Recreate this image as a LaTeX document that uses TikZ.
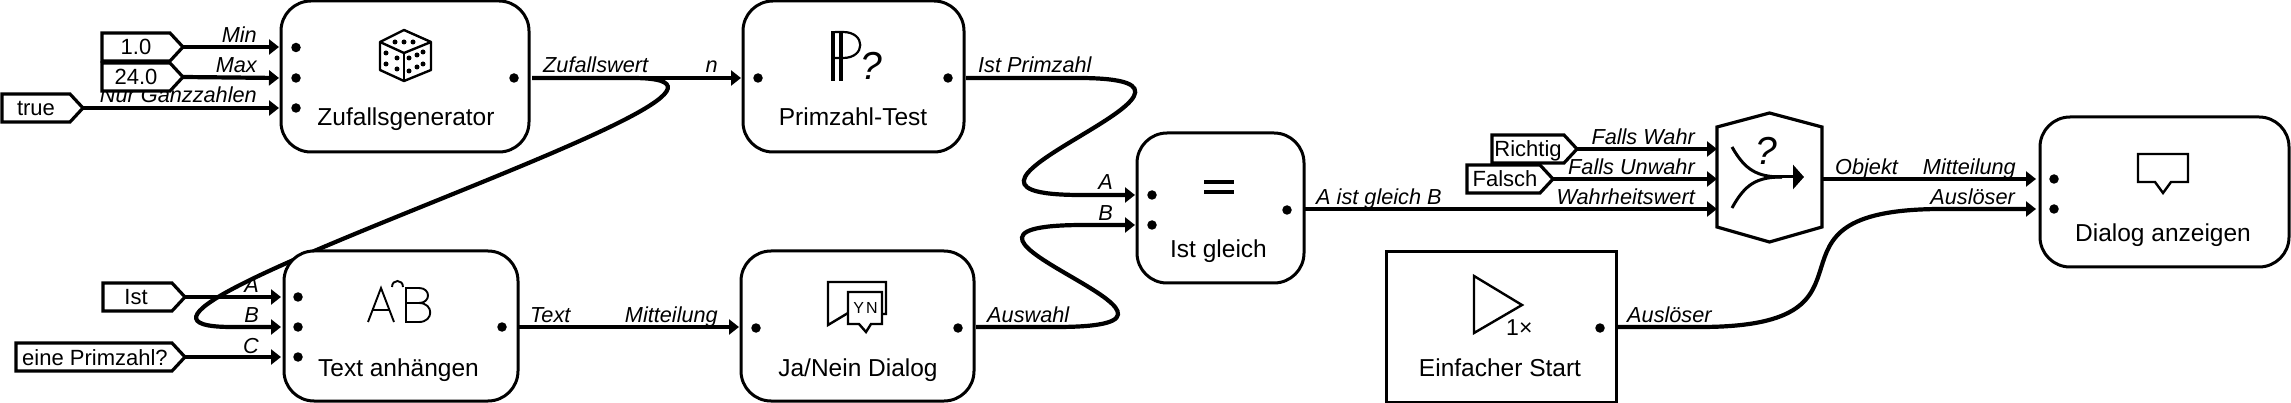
\documentclass[tikz,border=0pt]{standalone}
\usepackage{fontspec}
\setmainfont{Liberation Sans}
\usetikzlibrary{arrows.meta}
\newcommand{\fs}[1]{\fontsize{#1pt}{#1pt}\selectfont}
\tikzset{
  x=1pt,y=-1pt,
  block/.style={draw,line width=3pt,rounded corners=30pt,fill=white,inner sep=0pt,outer sep=0pt},
  plainblock/.style={draw,line width=3pt,fill=white,inner sep=0pt,outer sep=0pt},
  blocktext/.style={anchor=base,inner sep=0pt,font=\fs{24.5}},
  konstline/.style={draw,line width=3.2pt,fill=white,line join=miter},
  konsttext/.style={anchor=base,inner sep=0pt,font=\fs{22}},
  lblr/.style={anchor=base east,inner sep=0pt,font=\fs{21.7}\itshape},
  lbll/.style={anchor=base west,inner sep=0pt,font=\fs{21.7}\itshape},
  dot/.style={circle,fill=black,draw=none,minimum size=9.5pt,inner sep=0pt,outer sep=0pt},
  wire/.style={line width=4.2pt},
  arrowwire/.style={wire,-{Triangle[length=10pt,width=15pt]}},
  pip/.style={circle,fill=black,minimum size=5pt,inner sep=0pt,outer sep=0pt}
}
% name, left x, tip x, middle y, text centre x, text
\newcommand{\konstbox}[6]{%
  \draw[konstline] (#2,{#4-14}) -- ({#3-13},{#4-14}) -- (#3,#4) -- ({#3-13},{#4+14}) -- (#2,{#4+14}) -- cycle;
  \coordinate (#1) at (#3,#4);
  \node[konsttext] (#1t) at (#5,{#4+8}) {#6};
}
\begin{document}
\begin{tikzpicture}
\useasboundingbox (0,0) rectangle (2291,403);
\fill[white] (0,0) rectangle (2291,403);

% --- port coordinates
\coordinate (r1) at (279,47);
\coordinate (r2) at (279,78);
\coordinate (r3) at (279,108);
\coordinate (rout) at (532,78);
\coordinate (pin) at (741,78);
\coordinate (pout) at (966,78);
\coordinate (eqa) at (1135,195);
\coordinate (eqb) at (1135,225);
\coordinate (eqout) at (1304,209);
\coordinate (ta) at (281,297);
\coordinate (tb) at (281,327);
\coordinate (tc) at (281,357);
\coordinate (tout) at (519,327);
\coordinate (jin) at (739,327);
\coordinate (jout) at (976,327);
\coordinate (swa) at (1717,149);
\coordinate (swb) at (1717,179);
\coordinate (swc) at (1717,209);
\coordinate (swout) at (1823,179);
\coordinate (da) at (2036,179);
\coordinate (db) at (2036,209);
\coordinate (sout) at (1616,327);

% --- labels (under the constants)
\node[lblr] (lMin) at (257,43) {Min};
\node[lblr] (lMax) at (257,73) {Max};
\node[lblr] (lNur) at (257,103) {Nur Ganzzahlen};
\node[lbll] (lZw) at (543,73) {Zufallswert};
\node[lblr] (ln) at (718,73) {n};
\node[lbll] (lIp) at (978,73) {Ist Primzahl};
\node[lblr] (lA) at (1113,190) {A};
\node[lblr] (lB) at (1113,221) {B};
\node[lbll] (lAB) at (1316,205) {A ist gleich B};
\node[lblr] (lta) at (259,293) {A};
\node[lblr] (ltb) at (259,323) {B};
\node[lblr] (ltc) at (259,353) {C};
\node[lbll] (lTx) at (530,323) {Text};
\node[lblr] (lMt) at (718,323) {Mitteilung};
\node[lbll] (lAw) at (987,323) {Auswahl};
\node[lblr] (lFw) at (1695,145) {Falls Wahr};
\node[lblr] (lFu) at (1695,175) {Falls Unwahr};
\node[lblr] (lWw) at (1695,205) {Wahrheitswert};
\node[lbll] (lOb) at (1835,175) {Objekt};
\node[lblr] (lMd) at (2016,175) {Mitteilung};
\node[lblr] (lAd) at (2015,205) {Auslöser};
\node[lbll] (lAs) at (1627,322) {Auslöser};

% --- constants
\konstbox{k1}{102}{183}{47}{136}{1.0}
\konstbox{k2}{102}{183}{77}{136}{24.0}
\konstbox{k3}{2}{83}{108}{36}{true}
\konstbox{k4}{103}{185}{297}{136}{Ist}
\konstbox{k5}{16}{185}{357}{95}{eine Primzahl?}
\konstbox{k6}{1492}{1577}{149}{1528}{Richtig}
\konstbox{k7}{1467}{1553}{179}{1505}{Falsch}

% --- connectors
\draw[arrowwire] (k1) -- (r1);
\draw[arrowwire] (k2) -- (r2);
\draw[arrowwire] (k3) -- (r3);
\draw[arrowwire] (k4) -- (ta);
\draw[arrowwire] (k5) -- (tc);
\draw[arrowwire] (k6) -- (swa);
\draw[arrowwire] (k7) -- (swb);
\draw[arrowwire] (rout) -- (pin);
\draw[arrowwire] (rout) -- (632,78) .. controls (847,78) and (17,327) .. (232,327) -- (tb);
\draw[arrowwire] (pout) -- (1078,78) .. controls (1275,78) and (884,195) .. (1081,195) -- (eqa);
\draw[arrowwire] (tout) -- (jin);
\draw[arrowwire] (jout) -- (1056,327) .. controls (1259,327) and (881,225) .. (1084,225) -- (eqb);
\draw[arrowwire] (eqout) -- (swc);
\draw[arrowwire] (swout) -- (da);
\draw[arrowwire] (sout) -- (1700,327) .. controls (1905,327) and (1737,209) .. (1942,209) -- (db);

% --- blocks
\node[block,minimum width=248pt,minimum height=151pt] (b1) at (405,76.5) {};
\node[blocktext] (b1t) at (406,126) {Zufallsgenerator};
\node[dot] (b1a) at (296,47.5) {};
\node[dot] (b1b) at (296,78) {};
\node[dot] (b1c) at (296,108) {};
\node[dot] (b1o) at (514,78) {};

\node[block,minimum width=221pt,minimum height=151pt] (b2) at (853.5,76.5) {};
\node[blocktext] (b2t) at (853,126) {Primzahl-Test};
\node[dot] (b2a) at (758,78) {};
\node[dot] (b2o) at (948,78) {};

\node[block,minimum width=167pt,minimum height=150pt] (b3) at (1220.5,208) {};
\node[blocktext] (b3t) at (1218.5,258) {Ist gleich};
\node[dot] (b3a) at (1152,195) {};
\node[dot] (b3b) at (1152,225) {};
\node[dot] (b3o) at (1287,210) {};

\node[block,minimum width=234pt,minimum height=150pt] (b5) at (401,326) {};
\node[blocktext] (b5t) at (398.5,376) {Text anhängen};
\node[dot] (b5a) at (298,297) {};
\node[dot] (b5b) at (298,327) {};
\node[dot] (b5c) at (298,357) {};
\node[dot] (b5o) at (502,327) {};

\node[block,minimum width=233pt,minimum height=150pt] (b4) at (857.5,326) {};
\node[blocktext] (b4t) at (858,376) {Ja/Nein Dialog};
\node[dot] (b4a) at (756,328) {};
\node[dot] (b4o) at (958,328) {};

\node[plainblock,minimum width=230pt,minimum height=150pt] (b6) at (1501,327) {};
\node[blocktext] (b6t) at (1500,376) {Einfacher Start};
\node[dot] (b6o) at (1600,328) {};

\node[block,minimum width=249pt,minimum height=150pt] (b7) at (2164.5,192) {};
\node[blocktext] (b7t) at (2163,242) {Dialog anzeigen};
\node[dot] (b7a) at (2054,179) {};
\node[dot] (b7b) at (2054,209) {};

% --- switch
\draw[line width=3.2pt,fill=white,line join=miter] (1717,127) -- (1769.5,113) -- (1822,127) -- (1822,227) -- (1769.5,242) -- (1717,227) -- cycle;
\draw[line width=3pt] (1732,147) .. controls (1745,170) and (1757,177) .. (1782,177);
\draw[line width=3pt] (1732,208) .. controls (1745,184) and (1757,177) .. (1782,177);
\draw[line width=3pt,-{Triangle[length=11pt,width=24pt]}] (1775,177) -- (1804,177);
\node[anchor=base,inner sep=0pt,font=\fs{39}\itshape] (swq) at (1766,165) {?};

% --- dice icon
\begin{scope}[line width=2.4pt,line join=round]
\draw (404,30) -- (431,42) -- (431,70) -- (404,81) -- (380,70) -- (380,42) -- cycle;
\draw (380,42) -- (404,53) -- (431,42);
\draw (404,53) -- (404,81);
\end{scope}
\foreach \px/\py in {395/42,404/42,413/42,386/53,397/58,386/64,397/69,409/58,417/55,423/52,409/71,417/67,423/64}
  \node[pip] at (\px,\py) {};

% --- prime icon
\fill (831,31) rectangle (835,81);
\fill (839,31) rectangle (843,81);
\draw[line width=2.2pt] (835,32) -- (843,32) .. controls (866,32) and (866,58) .. (843,58) -- (835,58);
\node[anchor=base,inner sep=0pt,font=\fs{39}\itshape] (pq) at (871,80) {?};

% --- equals icon
\fill (1204,180) rectangle (1234,184);
\fill (1204,190) rectangle (1234,194);

% --- concat icon
\begin{scope}[line width=1.9pt,line join=miter]
\draw (368,322) -- (381,288) -- (394,322);
\draw (373,310) -- (389,310);
\draw (392,287) .. controls (392,279) and (403,279) .. (403,287);
\draw (419,303) -- (406,303) -- (406,322) -- (419,322) .. controls (434,322) and (434,303) .. (419,303) .. controls (431,303) and (431,288) .. (419,288) -- (406,288) -- (406,303);
\end{scope}

% --- yes/no dialog icon
\draw[line width=2.4pt,line join=miter] (848,313) -- (828,325) -- (828,282) -- (886,282) -- (886,314) -- (882,314);
\draw[line width=2.4pt,fill=white,line join=miter] (848,292) -- (882,292) -- (882,324) -- (871,324) -- (866,332) -- (859,324) -- (848,324) -- cycle;
\node[anchor=base,inner sep=0pt,font=\fs{16}] (yn) at (865.5,313) {Y\kern 2pt N};

% --- start icon
\draw[line width=2.4pt,line join=miter] (1474,276) -- (1522,305) -- (1474,333) -- cycle;
\node[anchor=base west,inner sep=0pt,font=\fs{23}] (onex) at (1506,335) {1×};

% --- dialog icon
\draw[line width=2.4pt,fill=white,line join=miter] (2138,154) -- (2188,154) -- (2188,182) -- (2171,182) -- (2163,193) -- (2155,182) -- (2138,182) -- cycle;
\end{tikzpicture}
\end{document}
